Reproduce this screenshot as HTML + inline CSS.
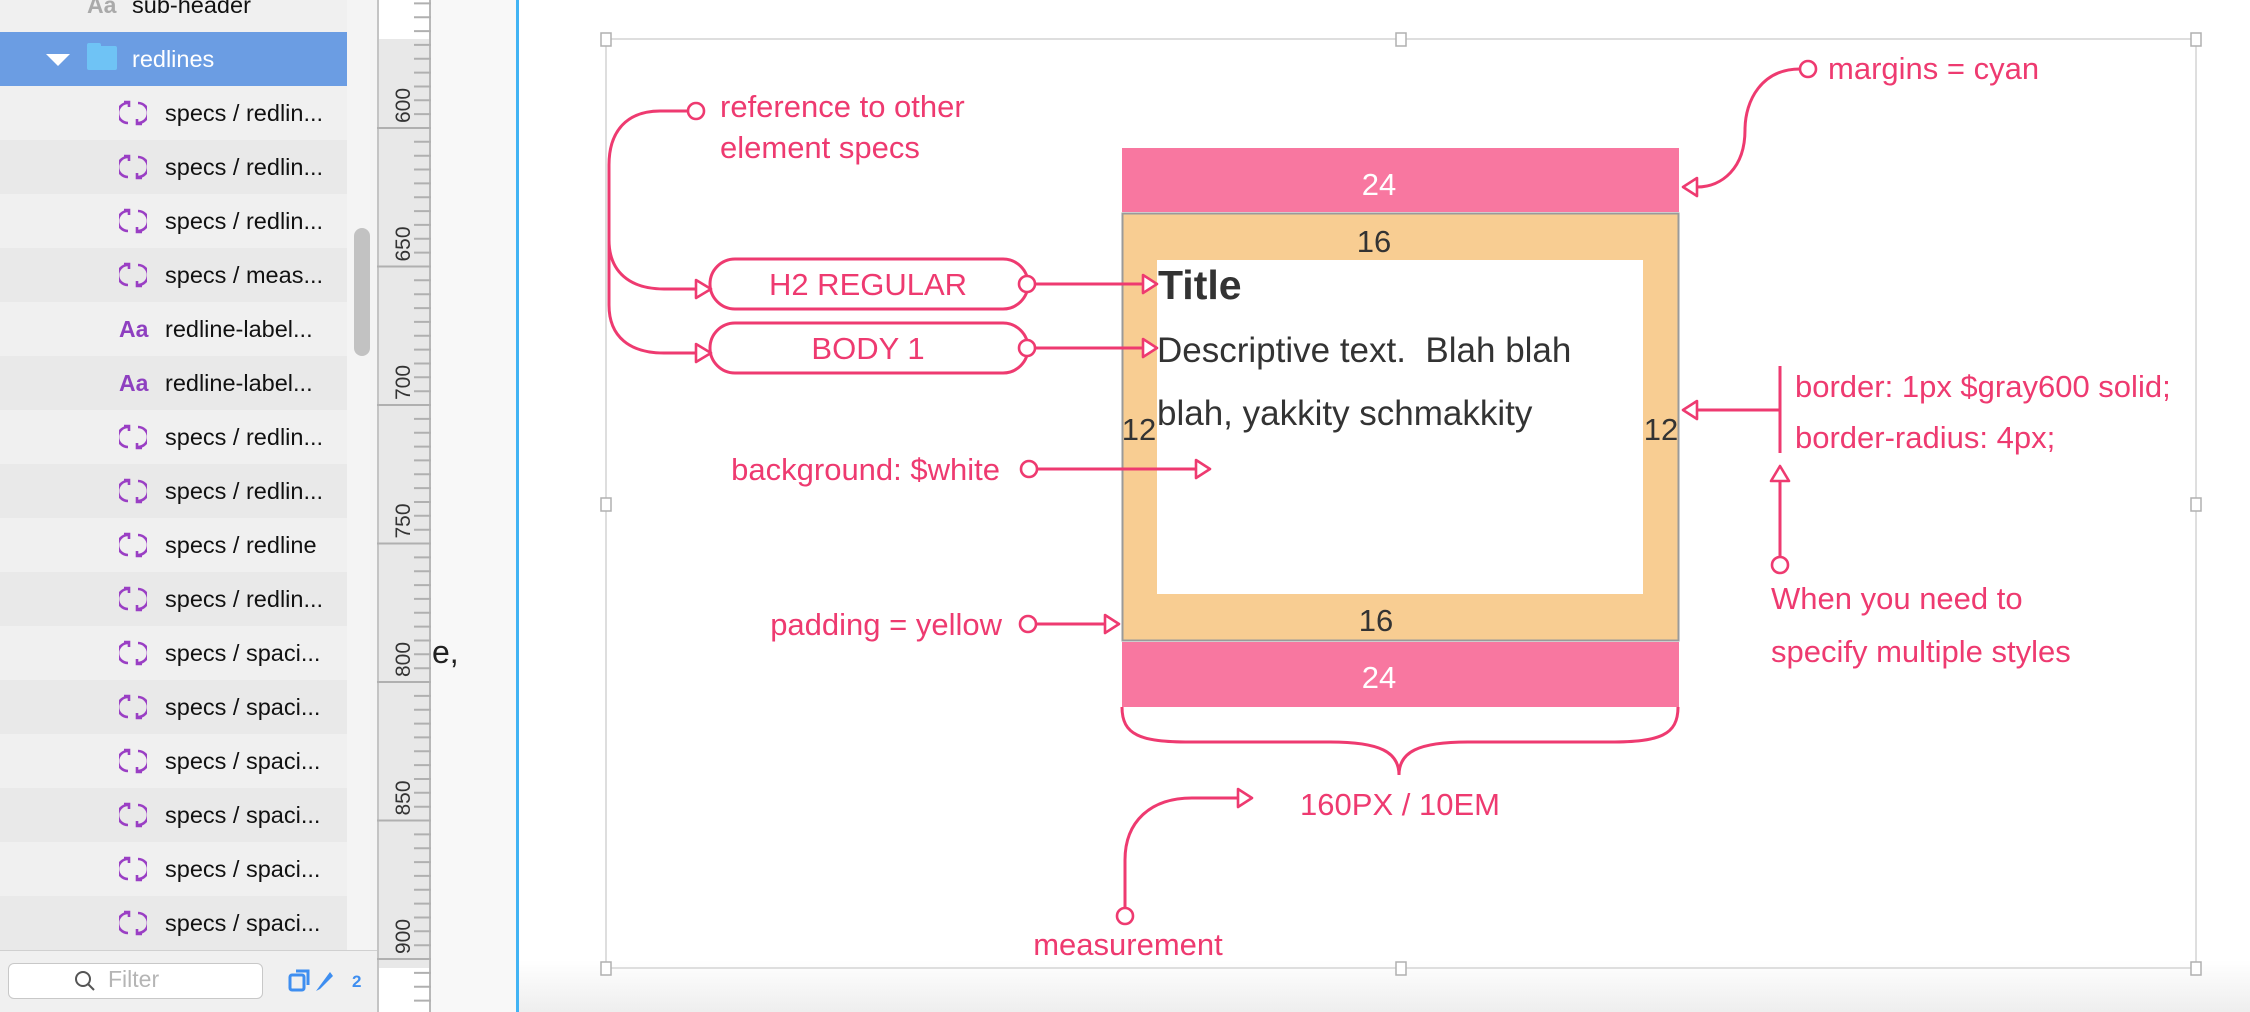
<!DOCTYPE html>
<html><head><meta charset="utf-8">
<style>
*{margin:0;padding:0;box-sizing:border-box}
body{width:2250px;height:1012px;overflow:hidden;position:relative;background:#fff;font-family:"Liberation Sans",sans-serif}
.abs{position:absolute}
.row{position:absolute;left:0;width:347px;height:54px;font-size:23.5px;color:#111;line-height:54px}
.row .t{position:absolute;left:165px}
.row svg{position:absolute;left:119px;top:13px}
.aa{position:absolute;left:119px;color:#8e3fc0;font-weight:bold;font-size:23px}
</style></head><body>
<div class="abs" style="left:0;top:0;width:347px;height:1012px;background:#f0f0f0"></div>
<div class="row" style="top:-22px;background:#f0f0f0"><span class="aa" style="color:#aaa;left:87px;font-weight:bold">Aa</span><span class="t" style="left:132px">sub-header</span></div>
<div class="row" style="top:32px;background:#6b9de3;color:#fff">
 <div class="abs" style="left:46px;top:22px;width:0;height:0;border-left:12px solid transparent;border-right:12px solid transparent;border-top:12px solid #fff"></div>
 <div class="abs" style="left:87px;top:14px;width:30px;height:24px;background:#6fc3f5;border-radius:2px"></div>
 <div class="abs" style="left:87px;top:11px;width:14px;height:6px;background:#6fc3f5;border-radius:2px"></div>
 <span class="t" style="left:132px">redlines</span></div>
<div id="rows"></div>
<script>
var items=["s:specs / redlin...","s:specs / redlin...","s:specs / redlin...","s:specs / meas...","a:redline-label...","a:redline-label...","s:specs / redlin...","s:specs / redlin...","s:specs / redline","s:specs / redlin...","s:specs / spaci...","s:specs / spaci...","s:specs / spaci...","s:specs / spaci...","s:specs / spaci...","s:specs / spaci..."];
var h="";
var ic='<svg width="28" height="28" viewBox="0 0 28 28"><path d="M9 4 A10 10 0 0 0 9 24" fill="none" stroke="#9a3fc4" stroke-width="2.6"/><path d="M5 3 L10 3 L10 8" fill="none" stroke="#9a3fc4" stroke-width="2.6"/><path d="M19 4 A10 10 0 0 1 19 24" fill="none" stroke="#9a3fc4" stroke-width="2.6"/><path d="M23 25 L18 25 L18 20" fill="none" stroke="#9a3fc4" stroke-width="2.6"/></svg>';
for(var i=0;i<items.length;i++){var p=items[i].split(":");
h+='<div class="row" style="top:'+(86+i*54)+'px;background:'+(i%2?'#e9e9e9':'#f0f0f0')+'">'+(p[0]=="s"?ic:'<span class="aa">Aa</span>')+'<span class="t">'+p[1]+'</span></div>';}
document.getElementById("rows").outerHTML=h;
</script>
<div class="abs" style="left:347px;top:0;width:30px;height:1012px;background:#f4f4f4"></div>
<div class="abs" style="left:354px;top:228px;width:16px;height:128px;background:#c2c2c2;border-radius:8px"></div>
<div class="abs" style="left:0;top:950px;width:377px;height:62px;background:#f0f0f0;border-top:1px solid #d0d0d0"></div>
<div class="abs" style="left:8px;top:963px;width:255px;height:36px;background:#fff;border:1px solid #c8c8c8;border-radius:6px"></div>
<svg class="abs" style="left:74px;top:970px" width="22" height="22"><circle cx="9" cy="9" r="7" fill="none" stroke="#555" stroke-width="2"/><line x1="14" y1="14" x2="20" y2="20" stroke="#555" stroke-width="2"/></svg>
<div class="abs" style="left:108px;top:966px;font-size:23px;color:#b5b5b5">Filter</div>
<svg class="abs" style="left:288px;top:967px" width="80" height="28"><rect x="2" y="8" width="14" height="15" rx="2" fill="none" stroke="#3e8ef0" stroke-width="3"/><path d="M8 4 H20 V18" fill="none" stroke="#3e8ef0" stroke-width="3"/><path d="M28 24 L42 5 L45 9 L32 22 Z" fill="#3e8ef0"/></svg>
<div class="abs" style="left:352px;top:972px;font-size:17px;font-weight:bold;color:#3e8ef0">2</div>
<div class="abs" style="left:377px;top:0;width:54px;height:1012px;background:#e8e8e8;border-left:2px solid #c4c4c4;border-right:2px solid #b8b8b8"></div>
<div class="abs" style="left:379px;top:0;width:50px;height:39px;background:#fff"></div>
<div class="abs" style="left:379px;top:968px;width:50px;height:44px;background:#fff"></div>
<svg class="abs" style="left:377px;top:0" width="54" height="1012" id="ruler"></svg>
<script>
var s="";for(var y=128-13.85*9;y<1012;y+=13.85){s+='<line x1="37" x2="54" y1="'+y.toFixed(1)+'" y2="'+y.toFixed(1)+'" stroke="#b0b0b0" stroke-width="2"/>';}
for(var k=0;k<7;k++){var y=128+138.5*k;s+='<line x1="0" x2="54" y1="'+y+'" y2="'+y+'" stroke="#b0b0b0" stroke-width="2"/>';
s+='<text transform="translate(33,'+(y-5)+') rotate(-90)" font-family="Liberation Sans" font-size="21" fill="#333">'+(600+50*k)+'</text>';}
document.getElementById("ruler").innerHTML=s;
</script>
<div class="abs" style="left:431px;top:0;width:85px;height:1012px;background:#f8f8f8"></div>
<div class="abs" style="left:432px;top:634px;font-size:32px;color:#222">e,</div>
<div class="abs" style="left:516px;top:0;width:3px;height:1012px;background:#42b4f4"></div>
<div class="abs" style="left:519px;top:960px;width:1731px;height:52px;background:linear-gradient(#fff,#eeeeee)"></div>

<svg class="abs" style="left:0;top:0" width="2250" height="1012" font-family="Liberation Sans">
 <rect x="606" y="39" width="1590" height="929" fill="none" stroke="#d4d4d4" stroke-width="1.5"/>
 <g fill="#fff" stroke="#b0b0b0" stroke-width="1.5">
  <rect x="601" y="33" width="10" height="13"/><rect x="1396" y="33" width="10" height="13"/><rect x="2191" y="33" width="10" height="13"/>
  <rect x="601" y="498" width="10" height="13"/><rect x="2191" y="498" width="10" height="13"/>
  <rect x="601" y="962" width="10" height="13"/><rect x="1396" y="962" width="10" height="13"/><rect x="2191" y="962" width="10" height="13"/>
 </g>
 <rect x="1122" y="148" width="557" height="64" fill="#f877a0"/>
 <rect x="1122.5" y="213.5" width="556" height="427" fill="#f8cd92" stroke="#9a9a9a" stroke-width="2"/>
 <rect x="1157" y="260" width="486" height="334" fill="#fff"/>
 <rect x="1122" y="642" width="557" height="65" fill="#f877a0"/>
 <g font-size="31" text-anchor="middle">
  <text x="1379" y="195" fill="#fff">24</text>
  <text x="1379" y="688" fill="#fff">24</text>
  <text x="1374" y="252" fill="#333">16</text>
  <text x="1376" y="631" fill="#333">16</text>
  <text x="1139" y="440" fill="#333">12</text>
  <text x="1661" y="440" fill="#333">12</text>
 </g>
 <text x="1158" y="299" font-size="41" font-weight="bold" fill="#333">Title</text>
 <text x="1157" y="362" font-size="35" fill="#333" xml:space="preserve">Descriptive text.  Blah blah</text>
 <text x="1157" y="425" font-size="35" fill="#333">blah, yakkity schmakkity</text>
 <g fill="none" stroke="#ee3a70" stroke-width="3">
  <path d="M1122 707 C1122 735 1140 742 1190 742 L1330 742 C1380 742 1399 752 1399 775 C1399 752 1418 742 1468 742 L1610 742 C1660 742 1678 735 1678 707"/>
  <path d="M688 111 L660 111 C628 111 609 130 609 165 L609 240 C609 272 630 289 664 289 L696 289"/>
  <path d="M609 240 L609 305 C609 337 630 353 664 353 L696 353"/>
  <rect x="710" y="259" width="318" height="50" rx="25"/>
  <rect x="710" y="323" width="318" height="50" rx="25"/>
  <path d="M1035 284 L1143 284"/><path d="M1035 348 L1143 348"/>
  <path d="M1037 469 L1196 469"/><path d="M1036 624 L1105 624"/>
  <path d="M1125 908 L1125 860 C1125 822 1150 798 1192 798 L1238 798"/>
  <path d="M1800 69 C1762 69 1745 100 1745 130 C1745 168 1722 187 1697 187"/>
  <path d="M1780 366 L1780 453"/><path d="M1780 410 L1697 410"/>
  <path d="M1780 557 L1780 481"/>
 </g>
 <g fill="#fff" stroke="#ee3a70" stroke-width="2.6" stroke-linejoin="round">
  <path d="M696 280 L711 289 L696 298 Z"/><path d="M696 344 L711 353 L696 362 Z"/>
  <path d="M1143 275 L1157 284 L1143 293 Z"/><path d="M1143 339 L1157 348 L1143 357 Z"/>
  <path d="M1196 460 L1210 469 L1196 478 Z"/><path d="M1105 615 L1119 624 L1105 633 Z"/>
  <path d="M1238 789 L1252 798 L1238 807 Z"/>
  <path d="M1697 178 L1683 187 L1697 196 Z"/><path d="M1697 401 L1683 410 L1697 419 Z"/>
  <path d="M1771 481 L1780 466 L1789 481 Z"/>
  <circle cx="696" cy="111" r="8"/><circle cx="1027" cy="284" r="8"/><circle cx="1027" cy="348" r="8"/>
  <circle cx="1029" cy="469" r="8"/><circle cx="1028" cy="624" r="8"/><circle cx="1125" cy="916" r="8"/>
  <circle cx="1808" cy="69" r="8"/><circle cx="1780" cy="565" r="8"/>
 </g>
 <g font-size="31" fill="#ee3a70">
  <text x="720" y="117">reference to other</text>
  <text x="720" y="158">element specs</text>
  <text x="868" y="295" text-anchor="middle">H2 REGULAR</text>
  <text x="868" y="359" text-anchor="middle">BODY 1</text>
  <text x="1000" y="480" text-anchor="end">background: $white</text>
  <text x="1002" y="635" text-anchor="end">padding = yellow</text>
  <text x="1400" y="815" text-anchor="middle">160PX / 10EM</text>
  <text x="1128" y="955" text-anchor="middle">measurement</text>
  <text x="1828" y="79">margins = cyan</text>
  <text x="1795" y="397">border: 1px $gray600 solid;</text>
  <text x="1795" y="448">border-radius: 4px;</text>
  <text x="1771" y="609">When you need to</text>
  <text x="1771" y="662">specify multiple styles</text>
 </g>
</svg>
</body></html>
